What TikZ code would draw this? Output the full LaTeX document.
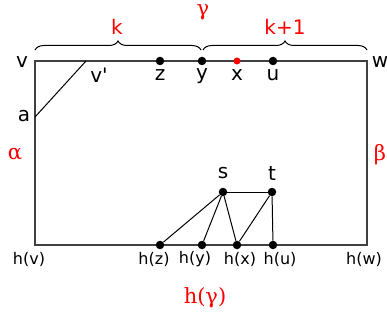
\documentclass[tikz,border=0pt]{standalone}
\usepackage{fontspec,tikz}
\usetikzlibrary{decorations.pathreplacing}
\setmainfont{DejaVu Sans}[Ligatures=TeXOff]
\newfontfamily\greekfont{DejaVu Serif}
\tikzset{
  lbl/.style={inner sep=0pt,font=\fontsize{20}{24}\selectfont},
  hlbl/.style={inner sep=0pt,font=\fontsize{16}{19}\selectfont},
  redlbl/.style={inner sep=0pt,text=red,font=\fontsize{20}{24}\selectfont},
  greeklbl/.style={inner sep=0pt,text=red,font=\fontsize{21}{25}\selectfont\greekfont},
  dot/.style={circle,fill=black,inner sep=0pt,minimum size=8.5pt},
  reddot/.style={circle,fill=red,inner sep=0pt,minimum size=7pt},
  edge/.style={line width=1pt},
  frame/.style={line width=1.5pt,draw=black!75},
  brc/.style={decorate,decoration={brace,amplitude=9pt},line width=1pt}
}
\begin{document}
\begin{tikzpicture}[x=1pt,y=-1pt]
\path[use as bounding box] (0,0) rectangle (387,320);
% frame
\coordinate (v) at (35,61);
\coordinate (w) at (367,61);
\coordinate (hv) at (35,245);
\coordinate (hw) at (367,245);
\coordinate (a) at (35,117);
\coordinate (v1) at (86,61);
\draw[frame] (v) -- (w) -- (hw) -- (hv) -- cycle;
\draw[edge] (a) -- (v1);
% braces
\draw[brc] (35,50) -- (201,50);
\draw[brc] (203,50) -- (367,50);
\node[redlbl] (k) at (117,27) {k};
\node[redlbl] (k1) at (285,27) {k+1};
\node[greeklbl] (gamma) at (203,12) {γ};
\node[greeklbl] (alpha) at (15,154) {α};
\node[greeklbl] (beta) at (380,155) {β};
\node[greeklbl] (hgamma) at (205,298) {h(γ)};
% top path
\node[dot] (z) at (160,61) {};
\node[dot] (y) at (202,61) {};
\node[reddot] (x) at (237,61) {};
\node[dot] (u) at (273,61) {};
% bottom path and s, t
\node[dot] (hz) at (160,245) {};
\node[dot] (hy) at (202,245) {};
\node[dot] (hx) at (237,245) {};
\node[dot] (hu) at (273,245) {};
\node[dot] (s) at (223,192) {};
\node[dot] (t) at (272,192) {};
\draw[edge] (hz) -- (s) -- (hy);
\draw[edge] (s) -- (hx) -- (t) -- (hu);
\draw[edge] (s) -- (t);
% labels
\node[lbl] at (22,62) {v};
\node[lbl] at (380,62) {w};
\node[lbl] at (99,75) {v'};
\node[lbl] at (24,116) {a};
\node[lbl] at (160,75) {z};
\node[lbl] at (202,76) {y};
\node[lbl] at (237,75) {x};
\node[lbl] at (273,75) {u};
\node[lbl] at (223,173) {s};
\node[lbl] at (272,173) {t};
\node[hlbl] at (29,259) {h(v)};
\node[hlbl] at (154,259) {h(z)};
\node[hlbl] at (195,259) {h(y)};
\node[hlbl] at (240,259) {h(x)};
\node[hlbl] at (280,259) {h(u)};
\node[hlbl] at (364,259) {h(w)};
\end{tikzpicture}
\end{document}
